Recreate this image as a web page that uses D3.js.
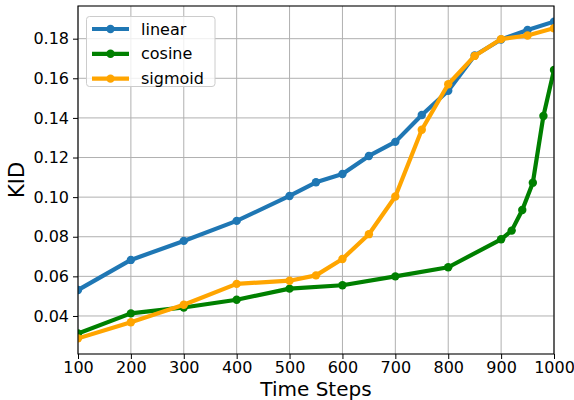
<!DOCTYPE html>
<html>
<head>
<meta charset="utf-8">
<script src="https://cdn.jsdelivr.net/npm/d3@7"></script>
<style>
  html, body { margin: 0; padding: 0; background: #fff; }
  svg { display: block; font-family: "DejaVu Sans", sans-serif; }
</style>
</head>
<body>
<svg id="chart" width="574" height="400"></svg>
<script>
// KID versus number of time steps for three noise schedules
const linearSteps = [100, 200, 300, 400, 500, 550, 600, 650, 700, 750, 800, 850, 900, 950, 1000];
const linearKID   = [0.0531, 0.0683, 0.0779, 0.0880, 0.1006, 0.1075, 0.1117, 0.1208, 0.1279, 0.1415, 0.1537, 0.1715, 0.1796, 0.1844, 0.1886];

const cosineSteps = [100, 200, 300, 400, 500, 600, 700, 800, 900, 920, 940, 960, 980, 1000];
const cosineKID   = [0.0312, 0.0413, 0.0443, 0.0482, 0.0538, 0.0555, 0.0600, 0.0646, 0.0787, 0.0831, 0.0935, 0.1073, 0.1410, 0.1642];

const sigmoidSteps = [100, 200, 300, 400, 500, 550, 600, 650, 700, 750, 800, 850, 900, 950, 1000];
const sigmoidKID   = [0.0287, 0.0368, 0.0457, 0.0562, 0.0578, 0.0605, 0.0688, 0.0813, 0.1003, 0.1340, 0.1570, 0.1713, 0.1798, 0.1816, 0.1853];

const seriesNames  = ["linear", "cosine", "sigmoid"];
const seriesColors = ["#1f77b4", "#008000", "#ffa500"];

const xTicks = [100, 200, 300, 400, 500, 600, 700, 800, 900, 1000];
const yTicks = [0.04, 0.06, 0.08, 0.10, 0.12, 0.14, 0.16, 0.18];

const series = [
  { name: seriesNames[0], color: seriesColors[0], xs: linearSteps,  ys: linearKID },
  { name: seriesNames[1], color: seriesColors[1], xs: cosineSteps,  ys: cosineKID },
  { name: seriesNames[2], color: seriesColors[2], xs: sigmoidSteps, ys: sigmoidKID }
];

const svg = d3.select("#chart");
const plot = { left: 78, right: 554, top: 6, bottom: 354 };

const x = d3.scaleLinear().domain([100, 1000]).range([plot.left, plot.right]);
const y = d3.scaleLinear().domain([0.0208, 0.1965]).range([plot.bottom, plot.top]);

// clip region for the data area
svg.append("defs").append("clipPath").attr("id", "plot-clip")
  .append("rect")
  .attr("x", plot.left).attr("y", plot.top)
  .attr("width", plot.right - plot.left).attr("height", plot.bottom - plot.top);

// grid
const grid = svg.append("g");
grid.selectAll("line.gx").data(xTicks).join("line")
  .attr("x1", d => x(d)).attr("x2", d => x(d))
  .attr("y1", plot.top).attr("y2", plot.bottom)
  .attr("stroke", "#b0b0b0").attr("stroke-width", 1);
grid.selectAll("line.gy").data(yTicks).join("line")
  .attr("x1", plot.left).attr("x2", plot.right)
  .attr("y1", d => y(d)).attr("y2", d => y(d))
  .attr("stroke", "#b0b0b0").attr("stroke-width", 1);

// series lines and markers
const data = svg.append("g").attr("clip-path", "url(#plot-clip)");
const line = d3.line().x(d => x(d[0])).y(d => y(d[1]));
series.forEach(s => {
  const pts = s.xs.map((v, i) => [v, s.ys[i]]);
  const g = data.append("g");
  g.append("path").datum(pts)
    .attr("d", line)
    .attr("fill", "none")
    .attr("stroke", s.color)
    .attr("stroke-width", 4.2)
    .attr("stroke-linejoin", "round")
    .attr("stroke-linecap", "square");
  g.selectAll("circle").data(pts).join("circle")
    .attr("cx", d => x(d[0])).attr("cy", d => y(d[1]))
    .attr("r", 4.2)
    .attr("fill", s.color);
});

// axes
const xAxis = d3.axisBottom(x).tickValues(xTicks).tickFormat(d3.format("d")).tickSize(5).tickPadding(3);
const yAxis = d3.axisLeft(y).tickValues(yTicks).tickFormat(d3.format(".2f")).tickSize(5).tickPadding(4);

const gx = svg.append("g").attr("transform", `translate(0,${plot.bottom})`).call(xAxis);
const gy = svg.append("g").attr("transform", `translate(${plot.left},0)`).call(yAxis);
[gx, gy].forEach(g => {
  g.select(".domain").remove();
  g.selectAll(".tick line").attr("stroke", "#000").attr("stroke-width", 1);
  g.selectAll(".tick text")
    .attr("fill", "#000")
    .style("font-size", "16px")
    .style("font-family", "DejaVu Sans, sans-serif");
});

// frame
svg.append("rect")
  .attr("x", plot.left).attr("y", plot.top)
  .attr("width", plot.right - plot.left).attr("height", plot.bottom - plot.top)
  .attr("fill", "none").attr("stroke", "#000").attr("stroke-width", 1.1);

// axis titles
svg.append("text")
  .attr("x", (plot.left + plot.right) / 2).attr("y", 396)
  .attr("text-anchor", "middle")
  .style("font-size", "20px")
  .text("Time Steps");
svg.append("text")
  .attr("transform", `translate(23.5,${(plot.top + plot.bottom) / 2}) rotate(-90)`)
  .attr("text-anchor", "middle")
  .style("font-size", "21px")
  .text("KID");

// legend
const legend = svg.append("g");
legend.append("rect")
  .attr("x", 86.5).attr("y", 16.5).attr("width", 128.5).attr("height", 70)
  .attr("rx", 3).attr("ry", 3)
  .attr("fill", "#fff").attr("fill-opacity", 0.8)
  .attr("stroke", "#cccccc").attr("stroke-width", 1);
series.forEach((s, i) => {
  const cy = 29 + i * 24.8;
  legend.append("line")
    .attr("x1", 92).attr("x2", 129).attr("y1", cy).attr("y2", cy)
    .attr("stroke", s.color).attr("stroke-width", 4.2);
  legend.append("circle").attr("cx", 110.5).attr("cy", cy).attr("r", 4.2).attr("fill", s.color);
  legend.append("text")
    .attr("x", 141).attr("y", cy).attr("dy", "0.35em")
    .style("font-size", "16px")
    .text(s.name);
});
</script>
</body>
</html>
